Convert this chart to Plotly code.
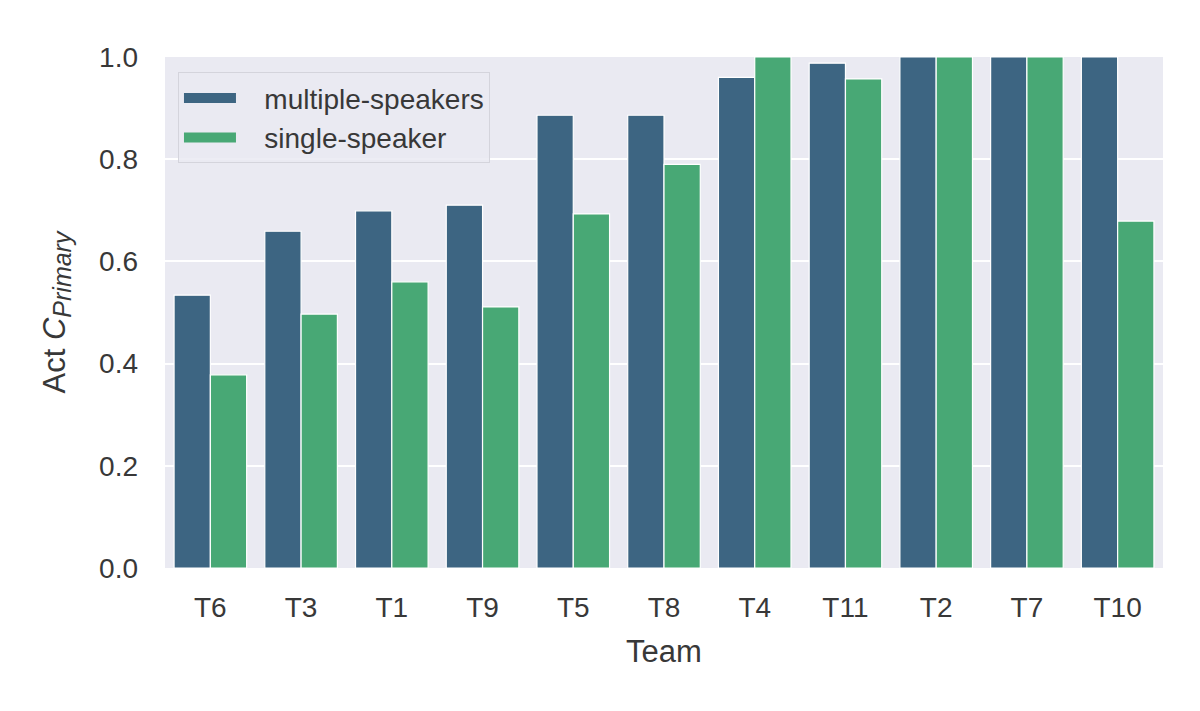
import plotly.graph_objects as go

# team order as on the x axis
teams = ['T6', 'T3', 'T1', 'T9', 'T5', 'T8', 'T4', 'T11', 'T2', 'T7', 'T10']
multi_vals = [0.534, 0.659, 0.699, 0.710, 0.886, 0.886, 0.960, 0.988, 1.0, 1.0, 1.0]
single_vals = [0.378, 0.497, 0.560, 0.511, 0.693, 0.790, 1.0, 0.957, 1.0, 1.0, 0.679]
series_names = ['multiple-speakers', 'single-speaker']
y_ticks = [0.0, 0.2, 0.4, 0.6, 0.8, 1.0]

blue = '#3d6582'
green = '#48a875'
txt = '#383838'
font_name = 'Liberation Sans, Arial, sans-serif'
pad = '\u00a0' * 3  # gap between legend patch and label

fig = go.Figure()
for name, vals, col in zip(series_names, [multi_vals, single_vals], [blue, green]):
    fig.add_trace(go.Bar(
        x=teams, y=vals, name=name, showlegend=False,
        marker=dict(color=col, line=dict(color='white', width=1.2)),
    ))
    # legend-only entry so the swatch is a wide patch like matplotlib's
    fig.add_trace(go.Scatter(
        x=[None], y=[None], name=pad + name, mode='lines',
        line=dict(color=col, width=14),
    ))

fig.update_layout(
    width=1200, height=711,
    barmode='group', bargap=0.2, bargroupgap=0,
    plot_bgcolor='#eaeaf2', paper_bgcolor='white',
    margin=dict(l=157, r=45, t=49, b=151),
    font=dict(family=font_name, size=28, color=txt),
    legend=dict(
        x=0.013, y=0.97, xanchor='left', yanchor='top',
        bgcolor='rgba(234,234,242,0.85)', bordercolor='#d4d4dc', borderwidth=1,
        font=dict(size=28, color=txt), tracegroupgap=4, itemwidth=52,
    ),
)
fig.update_xaxes(
    title=dict(text='Team', font=dict(size=31, color=txt), standoff=18),
    showgrid=False,
    ticks='', ticklabelstandoff=20, tickfont=dict(size=28, color=txt),
)
fig.update_yaxes(
    title=dict(text='Act <i>C</i><sub><i><span style="font-size:25px">Primary</span></i></sub>',
               font=dict(size=31, color=txt), standoff=24),
    range=[0, 1.0], tickvals=y_ticks, tickformat='.1f',
    showgrid=True, gridcolor='white', gridwidth=2, zeroline=False,
    ticks='', ticklabelstandoff=26, tickfont=dict(size=28, color=txt),
)

fig.write_html('out.html')
